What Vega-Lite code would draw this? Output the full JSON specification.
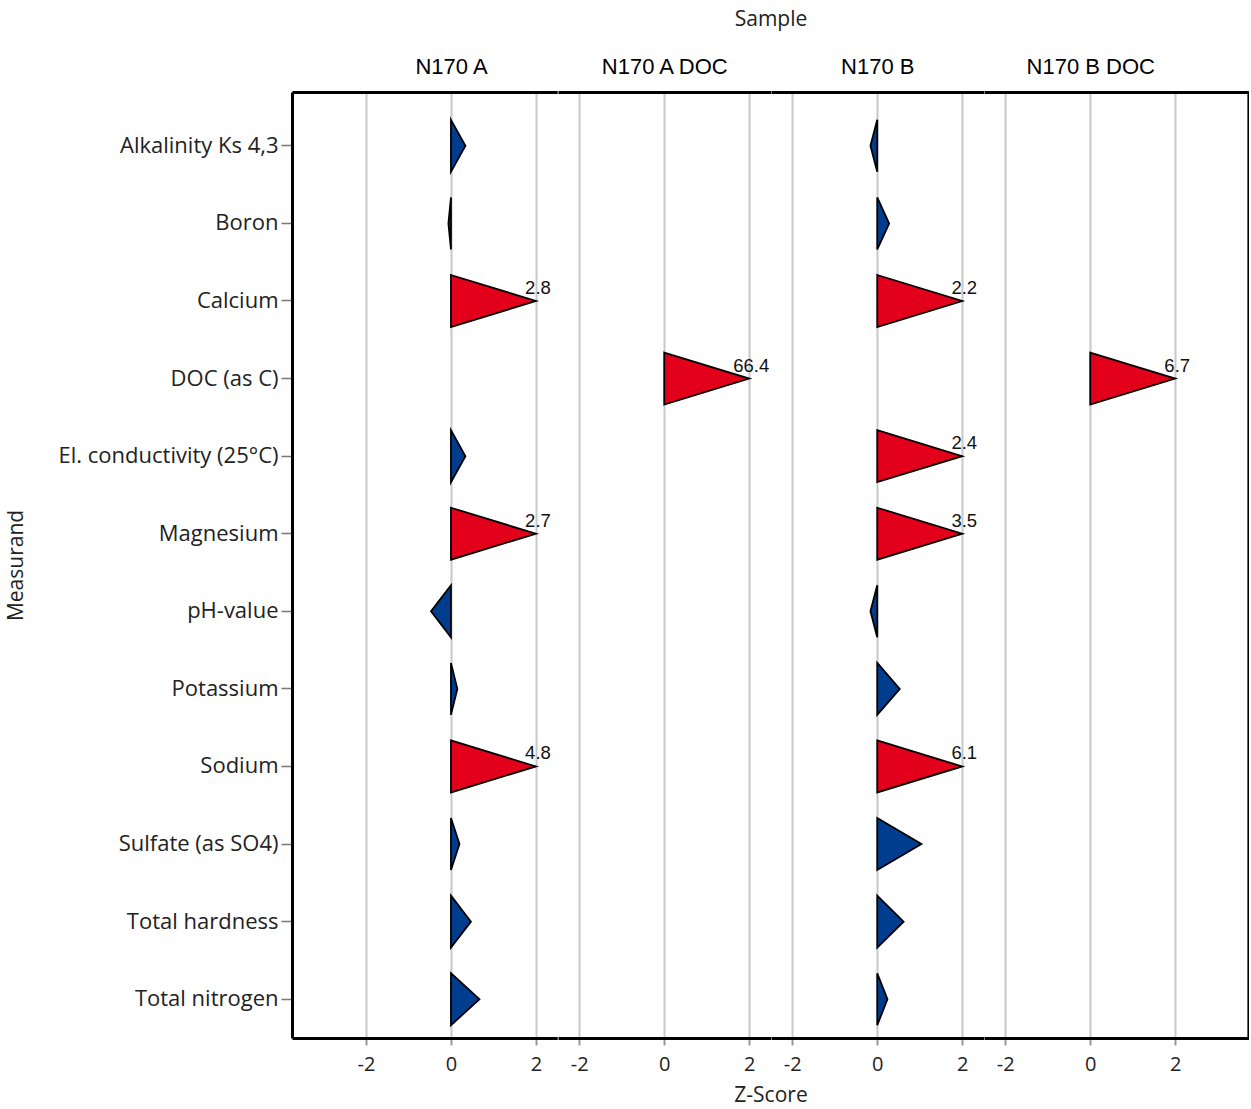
{
  "$schema": "https://vega.github.io/schema/vega-lite/v6.json",
  "padding": {"left": 5, "top": 8, "right": 0, "bottom": 3},
  "data": {"values": [
    {"sample": "N170 A", "measurand": "Alkalinity Ks 4,3", "z": 0.34},
    {"sample": "N170 A", "measurand": "Boron", "z": -0.06},
    {"sample": "N170 A", "measurand": "Calcium", "z": 2.8},
    {"sample": "N170 A", "measurand": "El. conductivity (25°C)", "z": 0.34},
    {"sample": "N170 A", "measurand": "Magnesium", "z": 2.7},
    {"sample": "N170 A", "measurand": "pH-value", "z": -0.47},
    {"sample": "N170 A", "measurand": "Potassium", "z": 0.15},
    {"sample": "N170 A", "measurand": "Sodium", "z": 4.8},
    {"sample": "N170 A", "measurand": "Sulfate (as SO4)", "z": 0.2},
    {"sample": "N170 A", "measurand": "Total hardness", "z": 0.47},
    {"sample": "N170 A", "measurand": "Total nitrogen", "z": 0.67},
    {"sample": "N170 A DOC", "measurand": "DOC (as C)", "z": 66.4},
    {"sample": "N170 B", "measurand": "Alkalinity Ks 4,3", "z": -0.16},
    {"sample": "N170 B", "measurand": "Boron", "z": 0.28},
    {"sample": "N170 B", "measurand": "Calcium", "z": 2.2},
    {"sample": "N170 B", "measurand": "El. conductivity (25°C)", "z": 2.4},
    {"sample": "N170 B", "measurand": "Magnesium", "z": 3.5},
    {"sample": "N170 B", "measurand": "pH-value", "z": -0.16},
    {"sample": "N170 B", "measurand": "Potassium", "z": 0.53},
    {"sample": "N170 B", "measurand": "Sodium", "z": 6.1},
    {"sample": "N170 B", "measurand": "Sulfate (as SO4)", "z": 1.04},
    {"sample": "N170 B", "measurand": "Total hardness", "z": 0.62},
    {"sample": "N170 B", "measurand": "Total nitrogen", "z": 0.24},
    {"sample": "N170 B DOC", "measurand": "DOC (as C)", "z": 6.7}
  ]},
  "spacing": 0,
  "bounds": "flush",
  "resolve": {"scale": {"x": "independent", "y": "independent", "yOffset": "independent"}},
  "hconcat": [
    {
      "width": 265.2, "height": 946,
      "transform": [{"filter": {"field": "sample", "equal": "N170 A"}}],
      "layer": [
        {
          "transform": [
            {"calculate": "min(datum.z, 2)", "as": "tip"},
            {"calculate": "[0, datum.tip, 0]", "as": "vx"},
            {"calculate": "[-1, 0, 1]", "as": "vy"},
            {"flatten": ["vx", "vy"]}
          ],
          "mark": {"type": "line", "interpolate": "linear-closed", "stroke": "#000", "strokeWidth": 1.8, "strokeJoin": "miter"},
          "encoding": {
            "x": {"field": "vx", "type": "quantitative", "scale": {"domain": [-3.741, 2.5]},
              "axis": {"orient": "bottom", "values": [-2, 0, 2], "labelExpr": "toString(datum.value)", "grid": true, "gridColor": "#c8c8c8", "gridWidth": 2, "ticks": true, "tickColor": "#999", "tickWidth": 2, "tickSize": 7, "domain": true, "domainColor": "#000", "domainWidth": 3, "labelPadding": 9, "labelFlush": false, "title": null}},
            "y": {"field": "measurand", "type": "nominal",
              "scale": {"domain": ["Alkalinity Ks 4,3", "Boron", "Calcium", "DOC (as C)", "El. conductivity (25°C)", "Magnesium", "pH-value", "Potassium", "Sodium", "Sulfate (as SO4)", "Total hardness", "Total nitrogen"], "paddingInner": 0, "paddingOuter": 0.097, "align": 1},
              "axis": {"orient": "left", "domain": true, "domainColor": "#000", "domainWidth": 3, "ticks": true, "tickColor": "#777", "tickSize": 11, "tickWidth": 1.5, "labelPadding": 3, "labelFontSize": 22, "labelLimit": 400, "grid": false, "title": "Measurand", "titlePadding": 66}},
            "yOffset": {"field": "vy", "type": "quantitative", "scale": {"domain": [-1.492, 1.492]}},
            "detail": {"field": "measurand", "type": "nominal"},
            "fill": {"condition": {"test": "datum.z > 2", "value": "#E2001A"}, "value": "#003D8F"}
          }
        },
        {
          "transform": [{"filter": "datum.z > 2"}, {"calculate": "min(datum.z, 2)", "as": "tip"}],
          "mark": {"type": "text", "font": "Liberation Sans", "fontSize": 18.5, "dx": 2, "dy": -7, "baseline": "alphabetic", "align": "center", "color": "#111"},
          "encoding": {
            "x": {"field": "tip", "type": "quantitative", "scale": {"domain": [-3.741, 2.5]},
              "axis": {"orient": "top", "values": [0], "labelExpr": "'N170 A'", "grid": false, "ticks": false, "tickSize": 0, "domain": true, "domainColor": "#000", "domainWidth": 3, "labelPadding": 14, "labelFont": "Liberation Sans", "labelFontSize": 22, "labelColor": "#000", "labelFlush": false, "title": null}},
            "y": {"field": "measurand", "type": "nominal",
              "scale": {"domain": ["Alkalinity Ks 4,3", "Boron", "Calcium", "DOC (as C)", "El. conductivity (25°C)", "Magnesium", "pH-value", "Potassium", "Sodium", "Sulfate (as SO4)", "Total hardness", "Total nitrogen"], "paddingInner": 0, "paddingOuter": 0.097, "align": 1},
              "axis": null},
            "text": {"field": "z", "type": "quantitative", "format": ".1f"}
          }
        }
      ],
      "resolve": {"axis": {"x": "independent", "y": "independent"}}
    },
    {
      "width": 212.5, "height": 946,
      "transform": [{"filter": {"field": "sample", "equal": "N170 A DOC"}}],
      "layer": [
        {
          "transform": [
            {"calculate": "min(datum.z, 2)", "as": "tip"},
            {"calculate": "[0, datum.tip, 0]", "as": "vx"},
            {"calculate": "[-1, 0, 1]", "as": "vy"},
            {"flatten": ["vx", "vy"]}
          ],
          "mark": {"type": "line", "interpolate": "linear-closed", "stroke": "#000", "strokeWidth": 1.8, "strokeJoin": "miter"},
          "encoding": {
            "x": {"field": "vx", "type": "quantitative", "scale": {"domain": [-2.5, 2.5]},
              "axis": {"orient": "bottom", "values": [-2, 0, 2], "labelExpr": "toString(datum.value)", "grid": true, "gridColor": "#c8c8c8", "gridWidth": 2, "ticks": true, "tickColor": "#999", "tickWidth": 2, "tickSize": 7, "domain": true, "domainColor": "#000", "domainWidth": 3, "labelPadding": 9, "labelFlush": false, "title": "Z-Score", "titleAnchor": "end", "titleAlign": "center", "titlePadding": 10}},
            "y": {"field": "measurand", "type": "nominal",
              "scale": {"domain": ["Alkalinity Ks 4,3", "Boron", "Calcium", "DOC (as C)", "El. conductivity (25°C)", "Magnesium", "pH-value", "Potassium", "Sodium", "Sulfate (as SO4)", "Total hardness", "Total nitrogen"], "paddingInner": 0, "paddingOuter": 0.097, "align": 1},
              "axis": null},
            "yOffset": {"field": "vy", "type": "quantitative", "scale": {"domain": [-1.492, 1.492]}},
            "detail": {"field": "measurand", "type": "nominal"},
            "fill": {"condition": {"test": "datum.z > 2", "value": "#E2001A"}, "value": "#003D8F"}
          }
        },
        {
          "transform": [{"filter": "datum.z > 2"}, {"calculate": "min(datum.z, 2)", "as": "tip"}],
          "mark": {"type": "text", "font": "Liberation Sans", "fontSize": 18.5, "dx": 2, "dy": -7, "baseline": "alphabetic", "align": "center", "color": "#111"},
          "encoding": {
            "x": {"field": "tip", "type": "quantitative", "scale": {"domain": [-2.5, 2.5]},
              "axis": {"orient": "top", "values": [0], "labelExpr": "'N170 A DOC'", "grid": false, "ticks": false, "tickSize": 0, "domain": true, "domainColor": "#000", "domainWidth": 3, "labelPadding": 14, "labelFont": "Liberation Sans", "labelFontSize": 22, "labelColor": "#000", "labelFlush": false, "title": "Sample", "titleAnchor": "end", "titleAlign": "center", "titlePadding": 26}},
            "y": {"field": "measurand", "type": "nominal",
              "scale": {"domain": ["Alkalinity Ks 4,3", "Boron", "Calcium", "DOC (as C)", "El. conductivity (25°C)", "Magnesium", "pH-value", "Potassium", "Sodium", "Sulfate (as SO4)", "Total hardness", "Total nitrogen"], "paddingInner": 0, "paddingOuter": 0.097, "align": 1},
              "axis": null},
            "text": {"field": "z", "type": "quantitative", "format": ".1f"}
          }
        }
      ],
      "resolve": {"axis": {"x": "independent", "y": "independent"}}
    },
    {
      "width": 212.5, "height": 946,
      "transform": [{"filter": {"field": "sample", "equal": "N170 B"}}],
      "layer": [
        {
          "transform": [
            {"calculate": "min(datum.z, 2)", "as": "tip"},
            {"calculate": "[0, datum.tip, 0]", "as": "vx"},
            {"calculate": "[-1, 0, 1]", "as": "vy"},
            {"flatten": ["vx", "vy"]}
          ],
          "mark": {"type": "line", "interpolate": "linear-closed", "stroke": "#000", "strokeWidth": 1.8, "strokeJoin": "miter"},
          "encoding": {
            "x": {"field": "vx", "type": "quantitative", "scale": {"domain": [-2.5, 2.5]},
              "axis": {"orient": "bottom", "values": [-2, 0, 2], "labelExpr": "toString(datum.value)", "grid": true, "gridColor": "#c8c8c8", "gridWidth": 2, "ticks": true, "tickColor": "#999", "tickWidth": 2, "tickSize": 7, "domain": true, "domainColor": "#000", "domainWidth": 3, "labelPadding": 9, "labelFlush": false, "title": null}},
            "y": {"field": "measurand", "type": "nominal",
              "scale": {"domain": ["Alkalinity Ks 4,3", "Boron", "Calcium", "DOC (as C)", "El. conductivity (25°C)", "Magnesium", "pH-value", "Potassium", "Sodium", "Sulfate (as SO4)", "Total hardness", "Total nitrogen"], "paddingInner": 0, "paddingOuter": 0.097, "align": 1},
              "axis": null},
            "yOffset": {"field": "vy", "type": "quantitative", "scale": {"domain": [-1.492, 1.492]}},
            "detail": {"field": "measurand", "type": "nominal"},
            "fill": {"condition": {"test": "datum.z > 2", "value": "#E2001A"}, "value": "#003D8F"}
          }
        },
        {
          "transform": [{"filter": "datum.z > 2"}, {"calculate": "min(datum.z, 2)", "as": "tip"}],
          "mark": {"type": "text", "font": "Liberation Sans", "fontSize": 18.5, "dx": 2, "dy": -7, "baseline": "alphabetic", "align": "center", "color": "#111"},
          "encoding": {
            "x": {"field": "tip", "type": "quantitative", "scale": {"domain": [-2.5, 2.5]},
              "axis": {"orient": "top", "values": [0], "labelExpr": "'N170 B'", "grid": false, "ticks": false, "tickSize": 0, "domain": true, "domainColor": "#000", "domainWidth": 3, "labelPadding": 14, "labelFont": "Liberation Sans", "labelFontSize": 22, "labelColor": "#000", "labelFlush": false, "title": null}},
            "y": {"field": "measurand", "type": "nominal",
              "scale": {"domain": ["Alkalinity Ks 4,3", "Boron", "Calcium", "DOC (as C)", "El. conductivity (25°C)", "Magnesium", "pH-value", "Potassium", "Sodium", "Sulfate (as SO4)", "Total hardness", "Total nitrogen"], "paddingInner": 0, "paddingOuter": 0.097, "align": 1},
              "axis": null},
            "text": {"field": "z", "type": "quantitative", "format": ".1f"}
          }
        }
      ],
      "resolve": {"axis": {"x": "independent", "y": "independent"}}
    },
    {
      "width": 264.4, "height": 946,
      "transform": [{"filter": {"field": "sample", "equal": "N170 B DOC"}}],
      "layer": [
        {
          "transform": [
            {"calculate": "min(datum.z, 2)", "as": "tip"},
            {"calculate": "[0, datum.tip, 0]", "as": "vx"},
            {"calculate": "[-1, 0, 1]", "as": "vy"},
            {"flatten": ["vx", "vy"]}
          ],
          "mark": {"type": "line", "interpolate": "linear-closed", "stroke": "#000", "strokeWidth": 1.8, "strokeJoin": "miter"},
          "encoding": {
            "x": {"field": "vx", "type": "quantitative", "scale": {"domain": [-2.5, 3.722]},
              "axis": {"orient": "bottom", "values": [-2, 0, 2], "labelExpr": "toString(datum.value)", "grid": true, "gridColor": "#c8c8c8", "gridWidth": 2, "ticks": true, "tickColor": "#999", "tickWidth": 2, "tickSize": 7, "domain": true, "domainColor": "#000", "domainWidth": 3, "labelPadding": 9, "labelFlush": false, "title": null}},
            "y": {"field": "measurand", "type": "nominal",
              "scale": {"domain": ["Alkalinity Ks 4,3", "Boron", "Calcium", "DOC (as C)", "El. conductivity (25°C)", "Magnesium", "pH-value", "Potassium", "Sodium", "Sulfate (as SO4)", "Total hardness", "Total nitrogen"], "paddingInner": 0, "paddingOuter": 0.097, "align": 1},
              "axis": null},
            "yOffset": {"field": "vy", "type": "quantitative", "scale": {"domain": [-1.492, 1.492]}},
            "detail": {"field": "measurand", "type": "nominal"},
            "fill": {"condition": {"test": "datum.z > 2", "value": "#E2001A"}, "value": "#003D8F"}
          }
        },
        {
          "transform": [{"filter": "datum.z > 2"}, {"calculate": "min(datum.z, 2)", "as": "tip"}],
          "mark": {"type": "text", "font": "Liberation Sans", "fontSize": 18.5, "dx": 2, "dy": -7, "baseline": "alphabetic", "align": "center", "color": "#111"},
          "encoding": {
            "x": {"field": "tip", "type": "quantitative", "scale": {"domain": [-2.5, 3.722]},
              "axis": {"orient": "top", "values": [0], "labelExpr": "'N170 B DOC'", "grid": false, "ticks": false, "tickSize": 0, "domain": true, "domainColor": "#000", "domainWidth": 3, "labelPadding": 14, "labelFont": "Liberation Sans", "labelFontSize": 22, "labelColor": "#000", "labelFlush": false, "title": null}},
            "y": {"field": "measurand", "type": "nominal",
              "scale": {"domain": ["Alkalinity Ks 4,3", "Boron", "Calcium", "DOC (as C)", "El. conductivity (25°C)", "Magnesium", "pH-value", "Potassium", "Sodium", "Sulfate (as SO4)", "Total hardness", "Total nitrogen"], "paddingInner": 0, "paddingOuter": 0.097, "align": 1},
              "axis": {"orient": "right", "domain": true, "domainColor": "#000", "domainWidth": 3, "ticks": false, "labels": false, "grid": false, "title": null}},
            "text": {"field": "z", "type": "quantitative", "format": ".1f"}
          }
        }
      ],
      "resolve": {"axis": {"x": "independent", "y": "independent"}}
    }
  ],
  "config": {
    "view": {"stroke": null},
    "axis": {"labelFont": "Open Sans", "labelFontSize": 20, "labelColor": "#222", "titleFont": "Open Sans", "titleFontSize": 21, "titleFontWeight": "normal", "titleColor": "#222"}
  }
}
